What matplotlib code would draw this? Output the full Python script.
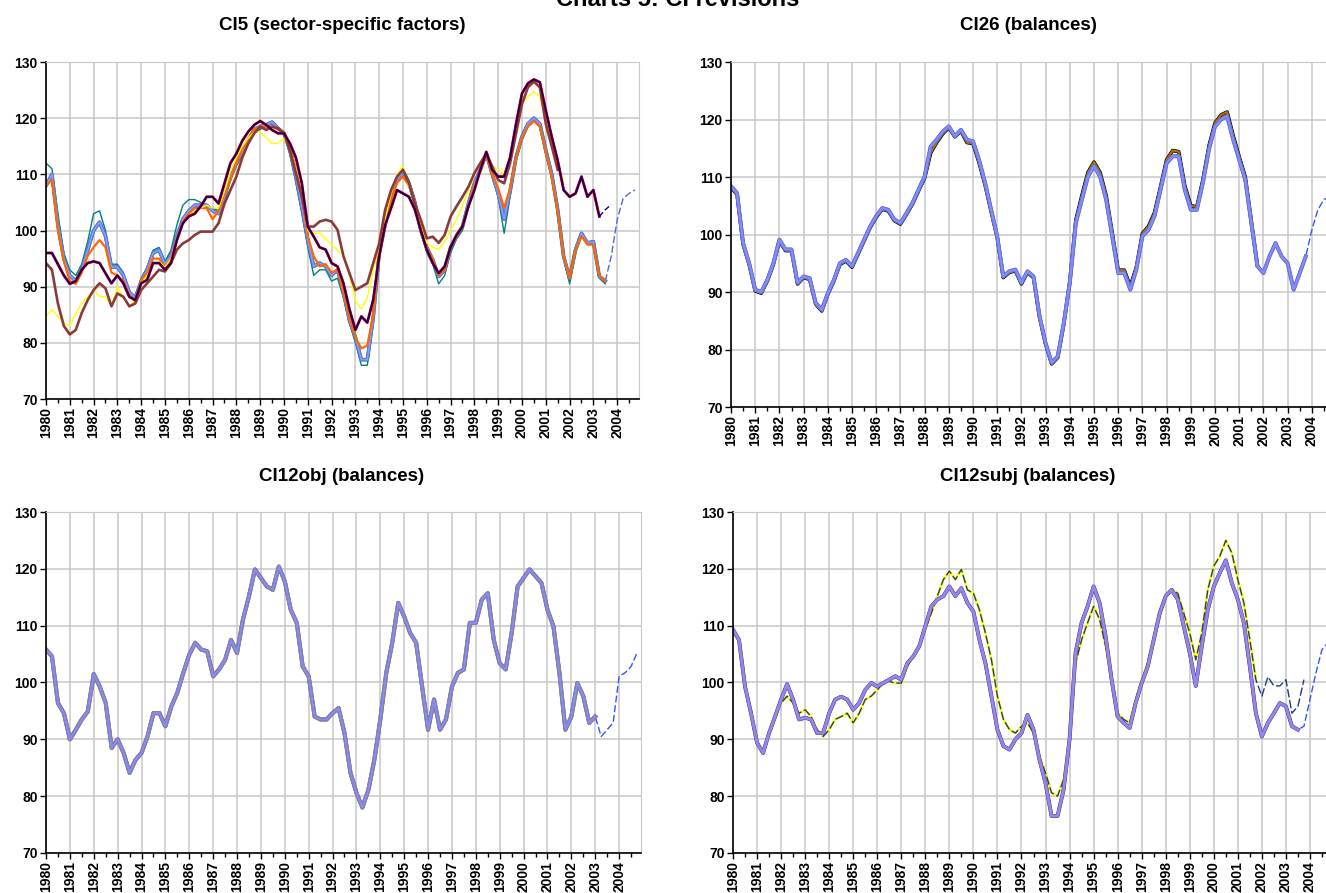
import numpy as np
import matplotlib
matplotlib.use("Agg")
import matplotlib.pyplot as plt
from matplotlib.ticker import MultipleLocator

nan = np.nan
years = list(range(1980, 2005))
quarters = np.arange(1980, 2005, 0.25)   # 1980Q1 .. 2004Q4

# ---------------- CI5 (sector-specific factors) ----------------
ci5_main = [108, 110, 101, 95,   92, 91, 93, 96.5,   100, 101.5, 99, 93.5,   93.5, 92, 89, 88,
            91, 93, 96, 96.5,   94, 95.5, 99, 102,   103.5, 104.5, 104.5, 104.5,   103.5, 103, 106, 109.5,
            112, 114, 116, 118,   118.5, 118.8, 119.3, 118.2,   117.3, 114.3, 109.6, 104.3,   98.3, 93.6, 94.2, 93.6,
            92, 93, 89, 84,   81, 77, 77, 84.5,   96, 101, 106, 109,   110.5, 108.4, 105, 100,
            97, 94.8, 91.8, 93,   97, 99, 100.7, 104.8,   108.4, 110.8, 113.7, 110,   106.6, 102, 107, 113,
            116.7, 119, 120, 119,   114.3, 110, 103.7, 95.4,   91.5, 96.6, 99.5, 97.8,   98, 91.8, 91, 95.4,
            101.9, 105.7, 106.6, 107.2]
ci5_teal = [112, 111, 103, 96,   93, 92, 94, 98,   103, 103.5, 100, 94,   94, 92.5, 89, 87,
            91.5, 93.5, 96.5, 97,   94.5, 96.5, 101, 104.5,   105.5, 105.5, 105, 104.5,   104, 103.5, 106, 109,
            111.5, 113.5, 115.5, 117.5,   118, 118.5, 119, 118,   117, 113.5, 108.5, 103,   97, 92, 93, 93,
            91, 91.5, 88, 83.5,   80, 76, 76, 83.5,   95.5, 100.5, 106, 109.5,   111, 109, 105.5, 99.5,
            96, 94, 90.5, 92,   96, 98.5, 100, 104.5,   108, 110.5, 113.5, 109.5,   106, 99.5, 106, 112.5,
            116, 118.5, 119.5, 118.5,   113.5, 109.5, 103, 95,   90.5, 96, 99, 97.5,   97.5, 91.5, 90.5, nan,
            nan, nan, nan, nan]
ci5_orange = [108, 109, 100, 94.5,   91, 90.5, 92.5, 95.5,   97, 98.3, 97, 92.5,   92, 91, 88.5, 87.5,
              91, 92.5, 95, 95,   93.5, 95, 98.5, 101.5,   103, 104, 104, 104,   102, 103.5, 106.5, 109,
              112, 114.5, 116.5, 118,   118.5, 118.5, 118.5, 118,   117.5, 115, 111, 106,   99, 95.4, 93.6, 94,
              92.5, 93, 89, 84.5,   81, 79, 79.5, 85,   96, 101, 105.5, 108.5,   109.6, 108, 105, 100,
              97, 94.8, 92, 93,   97, 99, 100.7, 104.5,   108, 110.5, 113.5, 110,   107.5, 104, 107.5, 113,
              116.5, 118.5, 119.5, 118.5,   114, 109.5, 103.5, 95.5,   91.5, 96.5, 99, 97.5,   97.5, 92, 91, nan,
              nan, nan, nan, nan]
ci5_navy = [96, 96, 94, 92,   90.5, 91, 93, 94.2,   94.5, 94.2, 92.4, 90.6,   92, 90.6, 88.2, 87.6,
            90.6, 91.2, 94.2, 94.2,   93, 94.2, 98.3, 101.3,   102.5, 103, 104.3, 106,   106, 104.8, 108.4, 112,
            113.7, 116, 117.6, 118.8,   119.5, 118.8, 117.9, 117.3,   117.3, 115.5, 113, 108.4,   100.7, 98.9, 97, 96.6,
            94.2, 93.6, 90.6, 86,   82.3, 84.7, 83.6, 87.7,   95.4, 101, 104, 107.2,   106.6, 106, 103.7, 100,
            96.6, 94.2, 92.4, 93.6,   97, 99.2, 100.7, 104.3,   107.2, 110.8, 114, 110.8,   109.6, 109.6, 113, 119,
            124.4, 126.2, 126.9, 126.4,   121.4, 116.7, 112.5, 107.2,   106, 106.6, 109.6, 106,   107.2, 102.5, 103.7, 104.6,
            nan, nan, nan, nan]
ci5_brown = [94.2, 93, 87, 83,   81.5, 82.3, 85.3, 87.6,   89.4, 90.6, 89.7, 86.5,   88.8, 88.2, 86.5, 87,
             89.4, 90.6, 91.8, 93,   92.7, 94.2, 96.6, 97.7,   98.3, 99.2, 99.8, 99.8,   99.8, 101.3, 104.8, 107.2,
             109.6, 113, 115.5, 117.3,   118.5, 117.9, 118.5, 118.2,   117.3, 114.3, 110.2, 106,   100.7, 100.7, 101.6, 101.9,
             101.6, 100.1, 95.4, 92.4,   89.4, 90, 90.6, 94.2,   97.7, 103.7, 107.2, 109.6,   110.8, 108.4, 104.8, 101.9,
             98.6, 98.9, 97.8, 99.2,   102.5, 104.3, 106, 107.8,   110.2, 112, 113.7, 111.4,   109, 108.4, 112, 117.3,
             122.5, 125.5, 126.5, 125.5,   119, 115, 110.8, nan,   nan, nan, nan, nan,   nan, nan, nan, nan,
             nan, nan, nan, nan]
ci5_yellow = [84.7, 85.9, 84.7, 83.5,   83, 85.3, 87, 88.2,   89.4, 88.2, 88.2, 86.5,   90, 88.2, 86.5, 87.6,
              90.6, 92, 94, 94.5,   93.5, 95, 98, 101,   102.5, 103.5, 104, 104.5,   104, 104, 107, 110.5,
              113, 115, 116.5, 117.5,   117.5, 116.5, 115.5, 115.5,   116.5, 114.5, 111, 106,   100, 99.5, 99.5, 98.5,
              97.5, 96.5, 95.5, 92,   87.5, 86, 88, 93,   97, 102, 106.6, 110,   111.5, 107.8, 105, 101,
              97.8, 97, 96.6, 98,   100, 101.9, 104.5, 107,   110, 112, 113.7, 111.5,   110.8, 110, 113, 117.3,
              122.6, 123.8, 124.7, 123.8,   119.6, 115.5, 112, 108.5,   nan, nan, nan, nan,   nan, nan, nan, nan,
              nan, nan, nan, nan]

# ---------------- CI26 (balances) ----------------
ci26_main = [108.4, 107.2, 98.5, 95,   90.4, 90, 92.1, 95,   99.1, 97.4, 97.4, 91.6,   92.7, 92.4, 88.1, 86.9,
             89.8, 92.1, 95, 95.6,   94.5, 96.8, 99.1, 101.4,   103.2, 104.6, 104.3, 102.6,   102, 103.7, 105.5, 107.8,
             110.1, 115.3, 116.5, 117.9,   118.8, 117.1, 118.2, 116.5,   116.2, 113, 109, 104.3,   99.7, 92.7, 93.6, 93.9,
             91.6, 93.6, 92.7, 85.8,   81.1, 77.7, 78.8, 84.6,   91.6, 102, 106.1, 110.1,   111.9, 110.1, 106.1, 99.7,
             93.3, 93.3, 90.4, 93.9,   99.7, 100.8, 103.2, 107.8,   112.4, 113.6, 113.6, 107.8,   104.3, 104.3, 109, 114.8,
             118.8, 120, 120.6, 116.5,   113, 109.5, 102, 94.5,   93.3, 96.2, 98.5, 96.2,   95, 90.4, 93.3, 96.2,
             100.8, 104.3, 106.1, 106.5]
ci26_dark = [108.2, 107, 98.3, 94.8,   90.2, 89.8, 91.9, 94.8,   98.9, 97.2, 97.2, 91.4,   92.5, 92.2, 87.9, 86.7,
             89.6, 91.9, 94.8, 95.4,   94.3, 96.6, 98.9, 101.2,   103, 104.4, 104.1, 102.4,   101.8, 103.5, 105.3, 107.6,
             109.8, 114.2, 116, 117.5,   118.6, 117, 118, 116,   115.8, 112.5, 108.6, 104,   99.5, 92.5, 93.4, 93.7,
             91.4, 93.4, 92.5, 85.6,   80.9, 77.5, 78.6, 84.4,   91.8, 102.5, 106.8, 110.8,   112.6, 110.8, 106.8, 100.3,
             93.8, 93.8, 91, 94.3,   100.2, 101.4, 103.8, 108.3,   113, 114.6, 114.4, 108.5,   105, 104.8, 109.5, 115.4,
             119.4, 120.8, 121.3, 117.2,   113.5, 110, 102.3, 94.7,   nan, nan, nan, nan,   nan, nan, nan, nan,
             nan, nan, nan, nan]

# ---------------- CI12obj (balances) ----------------
ci12obj_main = [105.8, 104.6, 96.4, 94.6,   90, 91.7, 93.5, 94.9,   101.5, 99.3, 96.4, 88.5,   90, 87.6, 84.1, 86.4,
                87.6, 90.5, 94.6, 94.6,   92.3, 95.8, 98.2, 101.7,   104.9, 107, 105.8, 105.5,   101.1, 102.3, 104, 107.5,
                105.2, 111.1, 115.2, 119.9,   118.4, 116.9, 116.3, 120.4,   117.8, 112.8, 110.5, 102.8,   101.1, 94, 93.5, 93.5,
                94.6, 95.5, 91.1, 84.1,   80.6, 78, 81.1, 86.4,   93.5, 101.7, 107, 114,   111.6, 108.7, 107, 99.3,
                91.7, 97, 91.7, 93.5,   99.3, 101.7, 102.3, 110.5,   110.5, 114.6, 115.7, 107.5,   103.4, 102.3, 108.7, 116.9,
                118.4, 119.9, 118.7, 117.5,   112.8, 109.9, 101.7, 91.7,   94, 99.9, 97.6, 92.9,   94, 90.5, 91.7, 92.9,
                101.1, 101.7, 102.8, 105.2]

# ---------------- CI12subj (balances) ----------------
ci12subj_a = [109.3, 107.5, 99.3, 94.6,   89.4, 87.6, 91.1, 94,   97, 99.7, 97, 93.5,   93.8, 93.5, 91.1, 91.1,
              94.6, 97, 97.5, 97,   95.2, 96.4, 98.7, 99.9,   99.3, 99.9, 100.5, 101.1,   100.5, 103.4, 104.6, 106.4,
              109.9, 113.4, 114.6, 115.2,   116.9, 115.2, 116.6, 114,   112.5, 107.5, 103.4, 97.6,   91.7, 88.8, 88.2, 90,
              91.1, 94.3, 91.7, 86.4,   82.3, 76.5, 76.5, 81.1,   90, 105.2, 110.5, 113.4,   116.9, 114, 108.1, 100.5,
              94, 92.9, 92, 96.4,   99.9, 102.8, 107.5, 112.2,   115.2, 116.3, 114.6, 109.9,   105.2, 99.4, 106.4, 112.8,
              116.9, 119.3, 121.5, 117.5,   114.6, 110.5, 102.8, 94.6,   90.5, 92.9, 94.6, 96.4,   95.8, 92.3, 91.7, 92.3,
              97, 101.7, 105.8, 107]
ci12subj_b = [108.7, 107.5, 99.3, 94.6,   89.4, 87.9, 91.1, 94,   96.4, 97.6, 96.4, 94.6,   95.2, 94, 91.7, 90.5,
              91.7, 93.5, 94, 94.6,   92.9, 94.6, 97, 97.6,   98.7, 99.9, 100.2, 99.9,   99.9, 102.8, 104.6, 106.4,
              109.3, 112.2, 115.2, 118.1,   119.6, 118.1, 119.9, 116.3,   115.7, 112.8, 108.7, 104,   97.6, 93.5, 91.7, 91.1,
              92.3, 92.9, 91.1, 87,   84.1, 80.6, 80, 82.9,   90, 103.4, 107.5, 110.5,   113.4, 111.1, 106.4, 100.5,
              94.6, 93.5, 92.9, 97,   100.5, 103.4, 107.5, 111.6,   115.2, 116.3, 115.7, 112.2,   108.7, 104, 108.7, 116.3,
              120.5, 122.2, 125, 122.8,   118.1, 114, 107.5, 100.5,   97.6, 101, 99.4, 99.4,   100.5, 94.6, 95.8, 100.5,
              nan, nan, nan, nan]

# ---------------- drawing ----------------
plt.rcParams['font.family'] = ['Liberation Sans', 'DejaVu Sans']
plt.rcParams['font.weight'] = 'bold'

W, H = 1326, 893
fig = plt.figure(figsize=(W / 100, H / 100), dpi=100)


def add_ax(left, top, right, bottom):
    return fig.add_axes([left / W, 1 - bottom / H, (right - left) / W, (bottom - top) / H])


def style(ax):
    ax.set_xlim(1980, 2004 + 11 / 12)
    ax.set_ylim(70, 130)
    ax.set_yticks(range(70, 131, 10))
    ax.set_yticklabels([str(v) for v in range(70, 131, 10)], fontsize=10, fontweight='bold')
    ax.set_xticks(years)
    ax.set_xticklabels([str(y) for y in years], rotation=90, fontsize=10, fontweight='bold')
    ax.xaxis.set_minor_locator(MultipleLocator(0.5))
    ax.grid(True, which='major', color='#C8C8C8', lw=1.1)
    ax.set_axisbelow(True)
    ax.tick_params(axis='both', which='major', direction='out', length=4, width=1, colors='black', pad=2)
    ax.tick_params(axis='x', which='minor', direction='out', length=3, width=1, colors='black')
    for s in ['top', 'right']:
        ax.spines[s].set_color('#C8C8C8')
    for s in ['left', 'bottom']:
        ax.spines[s].set_linewidth(1.2)


def arr(v):
    return np.array(v, dtype=float)


def bundle(ax, y, specs, upto=None, start=0):
    y = arr(y)
    sl = slice(start, upto)
    for col, lw in specs:
        ax.plot(quarters[sl], y[sl], color=col, lw=lw, solid_joinstyle='round')


# Panel 1
ax1 = add_ax(46, 62, 639, 399)
style(ax1)
ax1.plot(quarters[94:], arr(ci5_main)[94:], color='#5566EE', lw=1.0, ls=(0, (5, 2)))
ax1.plot(quarters[:96], arr(ci5_teal)[:96], color='#008080', lw=1.0)
bundle(ax1, ci5_main, [('#00AA00', 2.6), ('#FF00FF', 2.2), ('#00CCFF', 1.9),
                       ('#3366FF', 1.5), ('#9999FF', 1.1)], upto=95)
ax1.plot(quarters, arr(ci5_orange), color='#FF6600', lw=1.6)
ax1.plot(quarters, arr(ci5_yellow), color='#FFFF00', lw=1.0)
ax1.plot(quarters, arr(ci5_brown), color='#8B3A3A', lw=1.9)
bundle(ax1, ci5_navy, [('#FF0000', 2.0), ('#800000', 1.5), ('#000080', 1.0)], upto=94)
ax1.plot(quarters[93:], arr(ci5_navy)[93:], color='#000080', lw=1.0, ls=(0, (4, 2)))

# Panel 2
ax2 = add_ax(731, 62, 1334, 407)
style(ax2)
ax2.plot(quarters[94:], arr(ci26_main)[94:], color='#3355FF', lw=1.0, ls=(0, (5, 2)))
bundle(ax2, ci26_dark, [('#000000', 2.6), ('#336600', 1.8), ('#CC6600', 1.2)])
bundle(ax2, ci26_main, [('#FF00FF', 2.8), ('#00CCCC', 2.5), ('#3366FF', 2.2),
                        ('#8C8CE8', 1.7)], upto=96)

# Panel 3
ax3 = add_ax(46, 512, 641, 853)
style(ax3)
ax3.plot(quarters[91:], arr(ci12obj_main)[91:], color='#3355FF', lw=1.0, ls=(0, (5, 2)))
bundle(ax3, ci12obj_main, [('#CC0066', 3.0), ('#00CCCC', 2.7), ('#FF9900', 2.4),
                           ('#3366FF', 2.1), ('#8C8CE8', 1.7)], upto=93)

# Panel 4
ax4 = add_ax(733, 512, 1332, 853)
style(ax4)
ax4.plot(quarters[93:], arr(ci12subj_a)[93:], color='#3355FF', lw=1.0, ls=(0, (5, 2)))
ax4.plot(quarters[:88], arr(ci12subj_b)[:88], color='#FFFF00', lw=1.8)
ax4.plot(quarters, arr(ci12subj_b), color='#1F3C7A', lw=1.0, ls=(0, (6, 2)))
bundle(ax4, ci12subj_a, [('#CC0066', 2.8), ('#3366FF', 2.4), ('#8C8CE0', 2.0)], upto=95)

# Titles
fig.text(678 / W, 1 - 6 / H, 'Charts 5: CI revisions', ha='center', va='baseline',
         fontsize=17, fontweight='bold')
fig.text(342 / W, 1 - 26 / H, 'CI5 (sector-specific factors)', ha='center', va='center',
         fontsize=13.5, fontweight='bold')
fig.text(1028 / W, 1 - 26 / H, 'CI26 (balances)', ha='center', va='center',
         fontsize=13.5, fontweight='bold')
fig.text(342 / W, 1 - 476 / H, 'CI12obj (balances)', ha='center', va='center',
         fontsize=13.5, fontweight='bold')
fig.text(1028 / W, 1 - 476 / H, 'CI12subj (balances)', ha='center', va='center',
         fontsize=13.5, fontweight='bold')

fig.savefig('out.png', dpi=100)
